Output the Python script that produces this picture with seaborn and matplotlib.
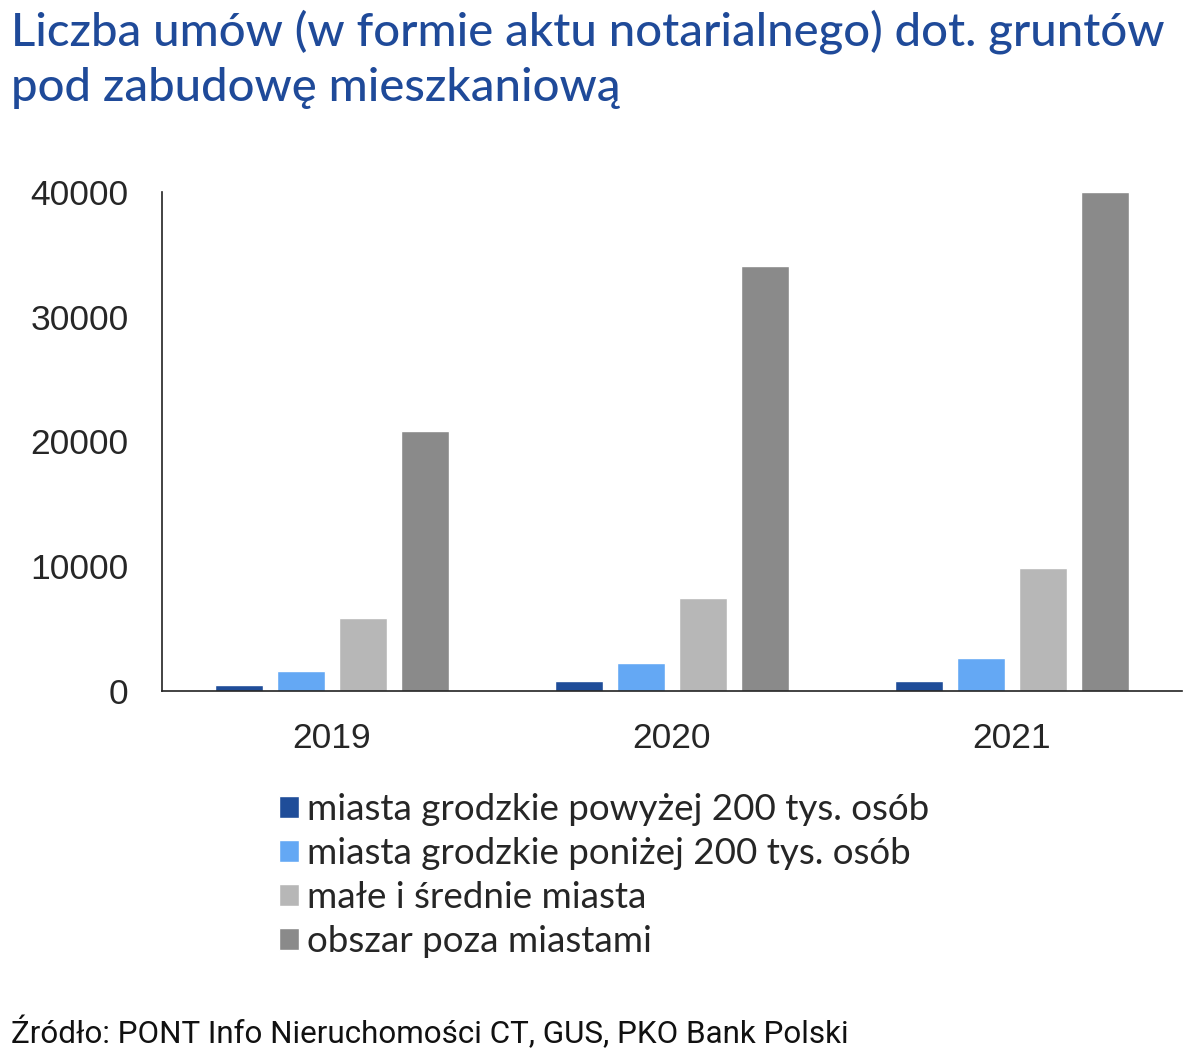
import pandas as pd
import numpy as np
import seaborn as sns
import matplotlib.pyplot as plt

# data
years = ['2019', '2020', '2021']
series = ['miasta grodzkie powyżej 200 tys. osób',
          'miasta grodzkie poniżej 200 tys. osób',
          'małe i średnie miasta',
          'obszar poza miastami']
duze_miasta = [480, 800, 800]
male_grodzkie = [1600, 2250, 2650]
male_srednie = [5850, 7450, 9850]
poza_miastami = [20850, 34050, 40000]
colors = ['#1f4d99', '#64a8f4', '#b7b7b7', '#8a8a8a']

title = 'Liczba umów (w formie aktu notarialnego) dot. gruntów\npod zabudowę mieszkaniową'
source = 'Źródło: PONT Info Nieruchomości CT, GUS, PKO Bank Polski'

df = pd.DataFrame({'rok': years * 4,
                   'seria': np.repeat(series, 3),
                   'liczba': duze_miasta + male_grodzkie + male_srednie + poza_miastami})

sns.set_style('white')
plt.rcParams['font.family'] = ['Lato', 'DejaVu Sans']

fig = plt.figure(figsize=(12, 10.62), dpi=100)
ax = fig.add_axes([162/1200, 1 - 691/1062, 1020/1200, 499/1062])

sns.barplot(data=df, x='rok', y='liczba', hue='seria', hue_order=series,
            palette=colors, width=0.73, gap=0.22, saturation=1, ax=ax, legend=True)

ax.set_ylim(0, 40000)
ax.set_xlim(-0.5, 2.5)
ax.set_yticks([0, 10000, 20000, 30000, 40000])
ax.set_xlabel('')
ax.set_ylabel('')
for s in ['top', 'right']:
    ax.spines[s].set_visible(False)
for s in ['left', 'bottom']:
    ax.spines[s].set_color('#222222')
    ax.spines[s].set_linewidth(1.2)

# group separators on the x axis
ax.set_xticks([-0.5, 0.5, 1.5, 2.5], minor=True)
ax.tick_params(axis='x', which='major', length=0, pad=22, labelsize=25.5, labelfontfamily='Liberation Sans')
ax.tick_params(axis='x', which='minor', length=8, width=1.2, color='#222222', direction='out')
ax.tick_params(axis='y', length=8, width=1.2, color='#222222', direction='out', pad=16,
               labelsize=25.5, labelfontfamily='Liberation Sans')

handles, labels = ax.get_legend_handles_labels()
ax.legend(handles, labels, loc='upper left', bbox_to_anchor=(279/1200, 1 - 793/1062),
          bbox_transform=fig.transFigure, frameon=False, fontsize=26.5,
          handlelength=0.55, handleheight=0.55, handletextpad=0.22, labelspacing=0.3,
          borderaxespad=0, borderpad=0)

fig.text(11/1200, 1 - 9/1062, title, ha='left', va='top', fontsize=34, color='#1f4a99',
         fontweight='medium', linespacing=1.38)
fig.text(11/1200, 1 - 1043/1062, source, ha='left', va='baseline', fontsize=22.6,
         family=['Roboto', 'DejaVu Sans'], color='#111111')

fig.savefig('out.png', dpi=100)
